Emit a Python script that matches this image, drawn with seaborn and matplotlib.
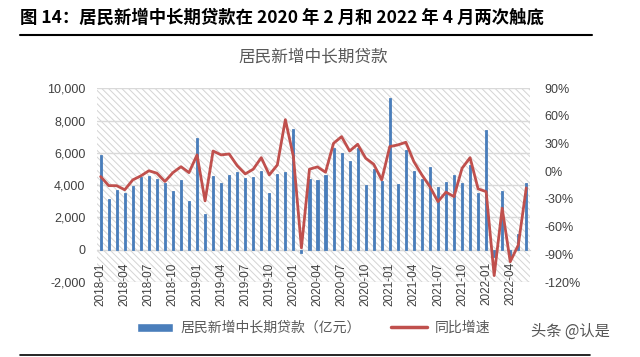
import numpy as np
import pandas as pd
import matplotlib
matplotlib.use("Agg")
import matplotlib.pyplot as plt
import seaborn as sns
from matplotlib.patches import Patch, Rectangle
from matplotlib.lines import Line2D
from matplotlib.ticker import FuncFormatter

sns.set_style("white")
plt.rcParams["font.family"] = ["Liberation Sans", "Noto Sans CJK SC", "DejaVu Sans"]
plt.rcParams["axes.unicode_minus"] = False
plt.rcParams["hatch.color"] = "#D4D4D4"
plt.rcParams["hatch.linewidth"] = 0.7

BLUE = "#4A7EBB"
RED = "#C0504D"
GRID = "#D9D9D9"
TXT = "#404040"

# 月份 2018-01 ~ 2022-06
months = pd.date_range("2018-01-01", "2022-06-01", freq="MS").strftime("%Y-%m").tolist()

# 居民新增中长期贷款（亿元）
loans = [5850, 3170, 3730, 3520, 3930, 4510, 4570, 4410, 4160, 3660, 4300, 3020,
         6920, 2200, 4570, 4160, 4650, 4800, 4450, 4480, 4900, 3520, 4670, 4820,
         7500, -200, 4400, 4300, 4650, 6300, 5990, 5520, 6300, 3990, 5030, 4240,
         9400, 4080, 6160, 4860, 4360, 5110, 3890, 4200, 4610, 4140, 5270, 3520,
         7400, -450, 3660, -500, 960, 4160]

# 同比增速（%）
yoy = [-5.7, -15.5, -15.6, -20, -9.3, -5, 0.6, -2, -11, -1.4, 5, -1.4,
       17.8, -32, 22, 17.8, 18.8, 6.2, -2.8, 2.3, 14.8, -3.9, 6.9, 56,
       16, -83, 2.3, 4.8, -1, 30.4, 37.6, 22, 29.3, 14.2, 7.7, -9.3,
       26.8, 28.6, 31.5, 10.5, -3.9, -16.6, -32.8, -22.6, -27.4, 3.3, 14.8, -19,
       -22, -113, -40, -98, -80, -18]

tick_idx = list(range(0, len(months), 3))
tick_labels = [months[i] for i in tick_idx]

df = pd.DataFrame({"月份": months, "贷款": loans, "同比": yoy, "idx": np.arange(len(months))})

fig = plt.figure(figsize=(6.4, 3.57), dpi=100, facecolor="white")
ax = fig.add_axes([0.151, 0.21, 0.6776, 0.5427])
ax.set_facecolor("white")

# 斜线底纹
ax.add_patch(Rectangle((0, 0), 1, 1, transform=ax.transAxes, facecolor="white",
                       edgecolor="#D4D4D4", hatch="\\\\\\\\\\", linewidth=0, zorder=0))

sns.barplot(data=df, x="月份", y="贷款", color=BLUE, saturation=1, width=0.26,
            errorbar=None, ax=ax, zorder=3, edgecolor=BLUE, linewidth=0.6)

ax.set_ylim(-2000, 10000)
ax.set_yticks(range(-2000, 10001, 2000))
ax.yaxis.set_major_formatter(FuncFormatter(lambda v, p: f"{int(v):,}"))
ax.grid(axis="y", color=GRID, linewidth=1.0, zorder=1)
ax.set_axisbelow(False)
for s in ["top", "right", "left"]:
    ax.spines[s].set_visible(False)
ax.spines["bottom"].set_position(("data", 0))
ax.spines["bottom"].set_color(GRID)
ax.set_xticks(tick_idx)
ax.set_xticklabels(tick_labels, rotation=90, fontsize=8.5, color=TXT)
ax.tick_params(axis="x", length=0, pad=9)
ax.tick_params(axis="y", length=0, labelsize=9, labelcolor=TXT, pad=8)
ax.set_xlabel("")
ax.set_ylabel("")

ax2 = ax.twinx()
sns.lineplot(data=df, x="idx", y="同比", color=RED, linewidth=2.0, ax=ax2, zorder=4)
ax2.set_ylim(-120, 90)
ax2.set_yticks(range(-120, 91, 30))
ax2.yaxis.set_major_formatter(FuncFormatter(lambda v, p: f"{int(v)}%"))
ax2.tick_params(axis="y", length=0, labelsize=9, labelcolor=TXT, pad=10)
for s in ax2.spines.values():
    s.set_visible(False)
ax2.set_xlabel("")
ax2.set_ylabel("")
ax.set_xlim(-0.5, len(months) - 0.5)

# 标题
fig.text(20 / 640, 1 - 18 / 357, "图 14：居民新增中长期贷款在 2020 年 2 月和 2022 年 4 月两次触底",
         fontsize=12.5, fontweight="bold", color="black", va="center", ha="left",
         family=["Noto Sans CJK SC"])
fig.add_artist(Line2D([20 / 640, 592 / 640], [1 - 35 / 357, 1 - 35 / 357],
                      color="black", linewidth=1.5, transform=fig.transFigure))
fig.add_artist(Line2D([20 / 640, 590 / 640], [1 - 355 / 357, 1 - 355 / 357],
                      color="black", linewidth=1.2, transform=fig.transFigure))
fig.text(0.49, 1 - 57 / 357, "居民新增中长期贷款", fontsize=12, color="#595959",
         ha="center", va="center", family=["Noto Sans CJK SC"])

handles = [Patch(facecolor=BLUE, label="居民新增中长期贷款（亿元）"),
           Line2D([0], [0], color=RED, linewidth=2.5, label="同比增速")]
leg = fig.legend(handles=handles, loc="center", bbox_to_anchor=(0.49, 1 - 328 / 357),
                 ncol=2, frameon=False, fontsize=10, handlelength=2.6, handleheight=0.6,
                 columnspacing=2.2, handletextpad=0.5)
for t in leg.get_texts():
    t.set_color("#595959")

fig.text(570 / 640, 1 - 331 / 357, "头条 @认是", fontsize=11, color="#555555",
         ha="center", va="center", family=["Noto Sans CJK SC"])

fig.savefig("out.png", dpi=100, facecolor="white")
